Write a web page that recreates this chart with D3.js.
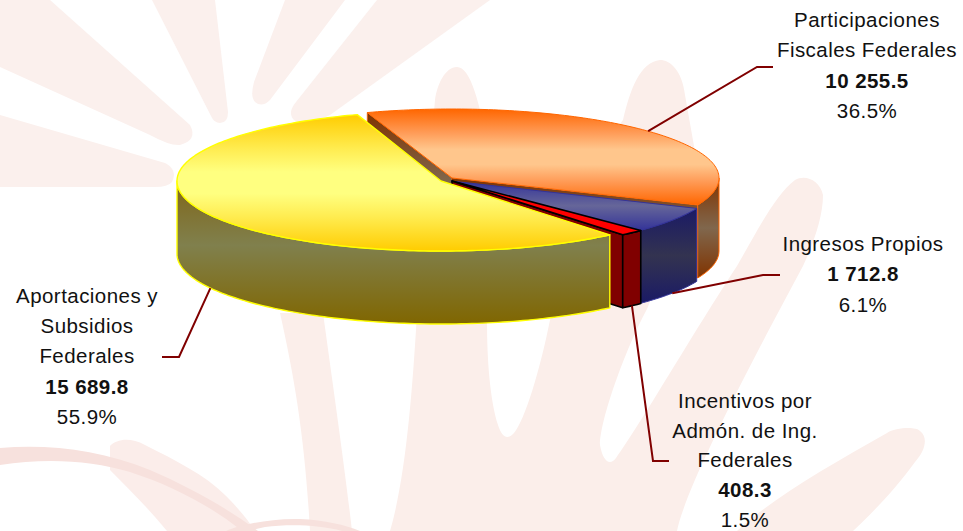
<!DOCTYPE html>
<html lang="es">
<head>
<meta charset="utf-8">
<script src="https://cdn.jsdelivr.net/npm/d3@7/dist/d3.min.js"></script>
<style>
html,body{margin:0;padding:0;background:#fff;overflow:hidden}
text{font-family:"Liberation Sans",Arial,sans-serif;fill:#111;text-anchor:middle}
</style>
</head>
<body>
<svg id="c" width="963" height="531" viewBox="0 0 963 531"></svg>
<script>
// ---- data ----
const categories = ["Participaciones Fiscales Federales","Ingresos Propios","Incentivos por Admón. de Ing. Federales","Aportaciones y Subsidios Federales"];
const values = [10255.5,1712.8,408.3,15689.8];
const valueLabels = ["10 255.5","1 712.8","408.3","15 689.8"];
const percentLabels = ["36.5%","6.1%","1.5%","55.9%"];
const nameLines = [["Participaciones","Fiscales Federales"],["Ingresos Propios"],["Incentivos por","Admón. de Ing.","Federales"],["Aportaciones y","Subsidios","Federales"]];

// ---- layout ----
const W=963,H=531,DEPTH=73;
const START=-18.5*Math.PI/180;
const centerX=[452,451,452,441], centerY=[178,181,181,181];
const radiusX=[267,267,267,264], radiusY=[69,70,70,70];
const topFill=["url(#gOrange)","url(#gBlue)","#FF0000","url(#gYellow)"];
const wallFill=["url(#gOrangeWall)","url(#gBlueWall)","#800000","url(#gYellowWall)"];
const edge=["#FF6600","#333399","#000000","#FFFF00"];
const edgeW=[1,1,1.6,1.4];
const labelX=[867,863,745,87];
const labelY=[27,251,408,303];
const lineGap=[30.3,30.3,29.7,30.2];
const elbow=[[757,67,773],[763,275,780],[653,461,669],[179,357,162]];
const leaderOnBottomRim=[false,true,true,true];
const FONT_SIZE=20.5, TRACK=0.45;

const svg=d3.select("#c");
const defs=svg.append("defs");
function grad(id,stops){
  const g=defs.append("linearGradient").attr("id",id).attr("x1",0).attr("y1",0).attr("x2",0).attr("y2",1);
  stops.forEach(s=>g.append("stop").attr("offset",s[0]).attr("stop-color",s[1]));
}
grad("gYellow",[[0,"#FFCC00"],[.25,"#FFEC50"],[.42,"#FFFF80"],[.58,"#FFFF80"],[.75,"#FFEC50"],[1,"#FFCC00"]]);
grad("gYellowWall",[[0,"#806618"],[.45,"#80804D"],[1,"#806600"]]);
grad("gOrange",[[0,"#FF6600"],[.25,"#FF9C58"],[.42,"#FFC68C"],[.58,"#FFC68C"],[.75,"#FF9C58"],[1,"#FF6600"]]);
grad("gOrangeWall",[[0,"#803300"],[.5,"#80674D"],[1,"#803300"]]);
grad("gBlue",[[0,"#333399"],[.5,"#666699"],[1,"#333399"]]);
grad("gBlueWall",[[0,"#1A1A66"],[.5,"#333350"],[1,"#1A1A66"]]);

// ---- watermark ----
const bg=svg.append("g");
[
 "M0 0L50 0L190 125Q198 140 180 145Q170 146 150 135L0 67Z",
 "M0 115L165 163Q178 170 172 182Q168 187 155 187L0 187Z",
 "M152 0L215 0L228 112Q228 123 220 123Q214 123 211 116Z",
 "M285 0L345 0L270 100Q262 108 255 102Q250 97 254 82Z",
 "M377 0L490 0L330 115Q305 128 294 120Q287 113 296 102Z"
].forEach(d=>bg.append("path").attr("d",d).attr("fill","#FBF0ED"));
[
 "M417 313C412 400 405 480 390 531L677 531C683 500 720 420 803 266C815 240 823 215 823 195C820 180 805 174 795 180C775 195 755 235 737 266C693 333 640 425 616 458C610 466 603 462 600 445C600 420 625 350 647 309L700 180L685 95C682 70 670 60 660 60C640 62 630 90 623 120L600 150L550 320C540 370 525 420 514 433C508 440 502 438 498 425C490 400 487 360 487 320L490 160C480 100 470 67 457 67C445 67 437 85 435 100Z",
 "M280 313L323 313C335 400 345 470 352 531L310 531C305 440 295 380 280 313Z",
 "M887 433C895 428 915 426 920 431C928 437 926 450 915 462C895 490 870 515 853 531L737 531C770 500 830 465 887 433Z"
].forEach(d=>bg.append("path").attr("d",d).attr("fill","#FBEEEA"));
bg.append("path").attr("d","M110 446C117 439 130 437 145 445C175 460 205 475 225 495C238 508 248 520 255 531L167 531C150 510 130 490 110 470Z").attr("fill","#FBEDEA");
bg.append("path").attr("d","M0 448C50 444 100 450 150 470C190 487 230 510 258 531L242 531C210 505 170 485 130 472C90 460 45 458 0 465Z").attr("fill","#F7E1DD");
bg.append("path").attr("d","M226 531C240 525 270 518 300 519C325 520 345 525 360 531L342 531C320 525 290 524 265 527L248 531Z").attr("fill","#F7E1DD");

// ---- pie geometry through d3.pie and scales ----
const pie=d3.pie().sort(null).startAngle(START).endAngle(START+2*Math.PI)(values);
const scalesX=values.map((_,i)=>d3.scaleLinear().domain([-1,1]).range([centerX[i]-radiusX[i],centerX[i]+radiusX[i]]));
const scalesY=values.map((_,i)=>d3.scaleLinear().domain([-1,1]).range([centerY[i]+radiusY[i],centerY[i]-radiusY[i]]));
const pt=(i,a,z=0)=>[scalesX[i](Math.sin(a)),scalesY[i](Math.cos(a))+z];
const path=d3.line();
function arcPts(i,a0,a1,z){
  const n=Math.max(2,Math.ceil(Math.abs(a1-a0)/0.02));
  return d3.range(n+1).map(k=>pt(i,a0+(a1-a0)*k/n,z));
}
function topPath(i){
  const d=pie[i];
  return path([[centerX[i],centerY[i]],...arcPts(i,d.startAngle,d.endAngle,0)])+"Z";
}
function outerWall(i){
  const d=pie[i];
  const a0=Math.max(d.startAngle,Math.PI/2), a1=Math.min(d.endAngle,Math.PI*1.5);
  if(a1<=a0) return null;
  return path([...arcPts(i,a0,a1,0),...arcPts(i,a1,a0,DEPTH)])+"Z";
}
function radialWall(i,a){
  const c=[centerX[i],centerY[i]], o=pt(i,a);
  return path([c,o,[o[0],o[1]+DEPTH],[c[0],c[1]+DEPTH]])+"Z";
}
const pg=svg.append("g");
function face(d,fill,i,w){
  pg.append("path").attr("d",d).attr("fill",fill).attr("stroke",edge[i]).attr("stroke-width",w===undefined?edgeW[i]:w).attr("stroke-linejoin","round");
}
// painter's order: orange, blue, red, yellow
face(radialWall(0,pie[0].startAngle),wallFill[0],0,0.8);
face(radialWall(0,pie[0].endAngle),wallFill[0],0,0);
face(outerWall(0),wallFill[0],0);
face(topPath(0),topFill[0],0);
face(outerWall(1),wallFill[1],1);
face(topPath(1),topFill[1],1);
face(radialWall(2,pie[2].endAngle),wallFill[2],2);
face(outerWall(2),wallFill[2],2);
face(topPath(2),topFill[2],2);
face(outerWall(3),wallFill[3],3);
face(topPath(3),topFill[3],3);

// ---- leaders ----
const lg=svg.append("g");
values.forEach((_,i)=>{
  const mid=(pie[i].startAngle+pie[i].endAngle)/2;
  const s=pt(i,mid,leaderOnBottomRim[i]?DEPTH:0);
  const e=elbow[i];
  lg.append("path").attr("d",path([s,[e[0],e[1]],[e[2],e[1]]]))
    .attr("fill","none").attr("stroke","#800000").attr("stroke-width",2);
});

// ---- labels ----
const tg=svg.append("g").attr("font-size",FONT_SIZE).attr("letter-spacing",TRACK);
values.forEach((_,i)=>{
  let y=labelY[i];
  nameLines[i].forEach(line=>{
    tg.append("text").attr("x",labelX[i]).attr("y",y).text(line);
    y+=lineGap[i];
  });
  tg.append("text").attr("x",labelX[i]).attr("y",y).attr("font-weight","bold").text(valueLabels[i]);
  y+=lineGap[i];
  tg.append("text").attr("x",labelX[i]).attr("y",y).text(percentLabels[i]);
});
</script>
</body>
</html>
